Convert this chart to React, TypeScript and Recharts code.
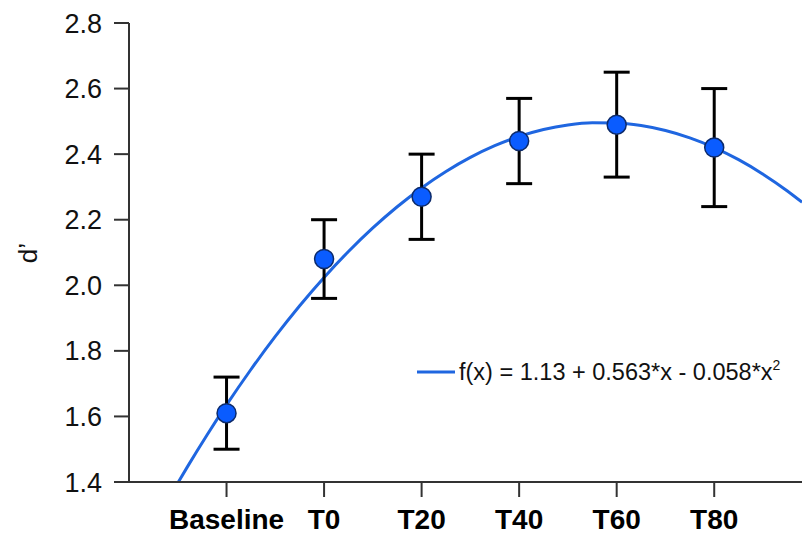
import React from "react";
import { ComposedChart, Line, Scatter, XAxis, YAxis, ErrorBar } from "recharts";

const categories = ["Baseline", "T0", "T20", "T40", "T60", "T80"];
const categoryX = [1, 2, 3, 4, 5, 6];
const means = [1.61, 2.08, 2.27, 2.44, 2.49, 2.42];
const upper = [1.72, 2.2, 2.4, 2.57, 2.65, 2.6];
const lower = [1.5, 1.96, 2.14, 2.31, 2.33, 2.24];
const yTicks = [1.4, 1.6, 1.8, 2.0, 2.2, 2.4, 2.6, 2.8];
// fitted curve coefficients as shown in legend: f(x) = c0 + c1*x + c2*x^2
const fitCoefficients = [1.13, 0.563, -0.058];
const fitXs = [0.45, 0.6, 0.8, 1, 1.25, 1.5, 1.75, 2, 2.25, 2.5, 2.75, 3, 3.25, 3.5, 3.75, 4, 4.25, 4.5, 4.75, 5, 5.25, 5.5, 5.75, 6, 6.25, 6.5, 6.75, 6.9];

const points = categoryX.map((x, i) => ({
  x,
  mean: means[i],
  err: [means[i] - lower[i], upper[i] - means[i]],
}));
const curve = fitXs.map((x) => ({
  x,
  y: fitCoefficients[0] + fitCoefficients[1] * x + fitCoefficients[2] * x * x,
}));

const FONT = "'Liberation Sans', Arial, Helvetica, sans-serif";

const Marker = (props: any) => (
  <circle cx={props.cx} cy={props.cy} r={9.5} fill="#0a5cff" stroke="#0d2b6b" strokeWidth={1.5} />
);

const YLabel = () => (
  <text transform="translate(37,253) rotate(-90)" textAnchor="middle" fontFamily={FONT} fontSize={26} fill="#111">
    d’
  </text>
);

export default function App() {
  return (
    <div style={{ position: "absolute", left: 0, top: 0, width: 802, height: 534, background: "#fff" }}>
      <ComposedChart width={802} height={534} margin={{ top: 23, right: 0, bottom: 0, left: 0 }}>
        <XAxis
          dataKey="x"
          type="number"
          domain={[0, 6.9]}
          ticks={categoryX}
          allowDataOverflow
          tickFormatter={(v: number) => categories[categoryX.indexOf(v)] ?? ""}
          height={52}
          tickSize={15}
          tickMargin={12}
          axisLine={{ stroke: "#333", strokeWidth: 2 }}
          tickLine={{ stroke: "#333", strokeWidth: 2 }}
          tick={{ fill: "#000", fontSize: 28, fontWeight: "bold", fontFamily: FONT }}
        />
        <YAxis
          type="number"
          domain={[1.4, 2.8]}
          ticks={yTicks}
          allowDataOverflow
          width={129}
          tickSize={15}
          tickMargin={12}
          tickFormatter={(v: number) => v.toFixed(1)}
          axisLine={{ stroke: "#333", strokeWidth: 2 }}
          tickLine={{ stroke: "#333", strokeWidth: 2 }}
          tick={{ fill: "#111", fontSize: 27, fontFamily: FONT }}
          label={<YLabel />}
        />
        <Line
          data={curve}
          dataKey="y"
          type="monotone"
          stroke="#1f66e0"
          strokeWidth={3}
          dot={false}
          activeDot={false}
          isAnimationActive={false}
        />
        <Scatter data={points} dataKey="mean" shape={<Marker />} isAnimationActive={false}>
          <ErrorBar dataKey="err" direction="y" width={13} stroke="#000" strokeWidth={3} isAnimationActive={false} />
        </Scatter>
      </ComposedChart>
      <svg width={380} height={30} style={{ position: "absolute", left: 417, top: 357, overflow: "visible" }}>
        <line x1={0} y1={15} x2={38} y2={15} stroke="#1f66e0" strokeWidth={3} />
        <text x={42} y={23} fontFamily={FONT} fontSize={23.5} fill="#111">
          f(x) = 1.13 + 0.563*x - 0.058*x
          <tspan fontSize={14} dy={-10}>2</tspan>
        </text>
      </svg>
    </div>
  );
}
